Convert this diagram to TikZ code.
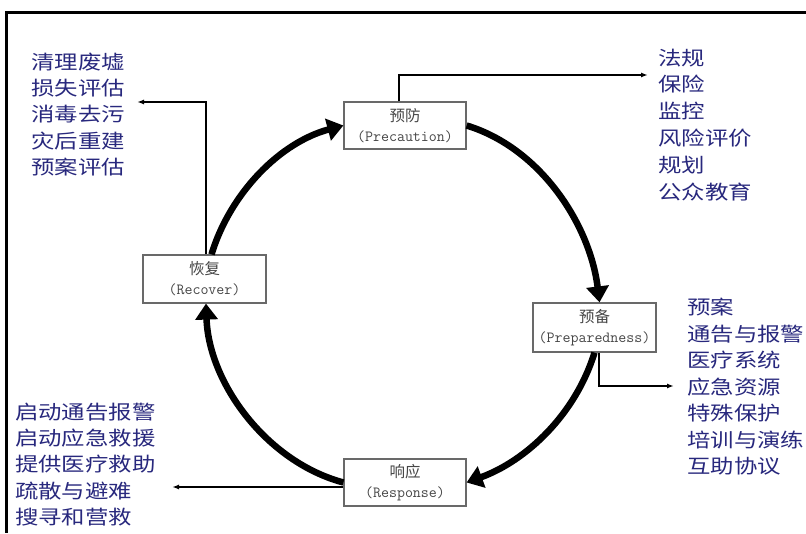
\documentclass[tikz,border=0pt]{standalone}
\usepackage{fontspec}
\usetikzlibrary{arrows.meta}
\newfontfamily\listfont[FakeStretch=1.2]{Noto Sans CJK SC}
\newfontfamily\cjkfont{Noto Sans CJK SC}
\definecolor{listblue}{RGB}{40,40,125}
\definecolor{boxgray}{RGB}{105,105,105}
\definecolor{labelgray}{RGB}{70,70,70}
\begin{document}
\begin{tikzpicture}[x=1pt,y=1pt,
  stage/.style={draw=boxgray, line width=1.2pt, fill=white,
    minimum width=122pt, minimum height=47pt, inner sep=0pt,
    align=center, text=labelgray, font=\fontsize{15.5}{20}\selectfont},
  cycle/.style={line width=6.5pt, looseness=0.9,
    -{Triangle[length=16pt,width=22pt]}},
  branch/.style={line width=1.4pt, -{Latex[length=7pt,width=5pt]}},
  item/.style={anchor=base west, inner sep=0pt, text=listblue,
    font=\listfont\fontsize{19.5}{24}\selectfont},
]
\useasboundingbox (0,0) rectangle (806,533);

% frame along the top and left edges
\draw[line width=3pt] (806,520.5) -- (6.5,520.5) -- (6.5,0);

% the four stages of the cycle
\node[stage] (prec) at (405,407.5) {{\cjkfont 预防}\\{\ttfamily (Precaution)}};
\node[stage, minimum width=123pt, minimum height=48pt] (rec) at (204.5,254)
  {{\cjkfont 恢复}\\{\ttfamily (Recover)}};
\node[stage, minimum width=123pt, minimum height=49pt] (prep) at (594.5,205.5)
  {{\cjkfont 预备}\\{\ttfamily (Preparedness)}};
\node[stage] (resp) at (405,50.5) {{\cjkfont 响应}\\{\ttfamily (Response)}};

% branches leading to the task lists
\coordinate (precend) at (648,458);
\coordinate (recend) at (137,431);
\coordinate (prepend) at (674,147);
\coordinate (respend) at (172,46);
\draw[branch] ([xshift=-6pt]prec.north) |- (precend);
\draw[branch] ([xshift=1.5pt]rec.north) |- (recend);
\draw[branch] ([xshift=4.5pt]prep.south) |- (prepend);
\draw[branch] ([yshift=-4.5pt]resp.west) -- (respend);

% the cycle itself
\draw[cycle] (prec.east) to[out=-17,in=97] ([xshift=5pt]prep.north);
\draw[cycle] (prep.south) to[out=-107,in=20] (resp.east);
\draw[cycle] (resp.west) to[out=165,in=-88] ([xshift=1.5pt]rec.south);
\draw[cycle] ([xshift=7pt]rec.north) to[out=73,in=195] (prec.west);

% task lists
\foreach \t [count=\i] in {清理废墟,损失评估,消毒去污,灾后重建,预案评估}
  \node[item] (tl\i) at (31,{463.8-26.3*(\i-1)}) {\t};
\foreach \t [count=\i] in {法规,保险,监控,风险评价,规划,公众教育}
  \node[item] (tr\i) at (658,{467.8-26.8*(\i-1)}) {\t};
\foreach \t [count=\i] in {预案,通告与报警,医疗系统,应急资源,特殊保护,培训与演练,互助协议}
  \node[item] (rt\i) at (687,{218.3-26.5*(\i-1)}) {\t};
\foreach \t [count=\i] in {启动通告报警,启动应急救援,提供医疗救助,疏散与避难,搜寻和营救}
  \node[item] (bl\i) at (15,{113.8-26.3*(\i-1)}) {\t};
\end{tikzpicture}
\end{document}
